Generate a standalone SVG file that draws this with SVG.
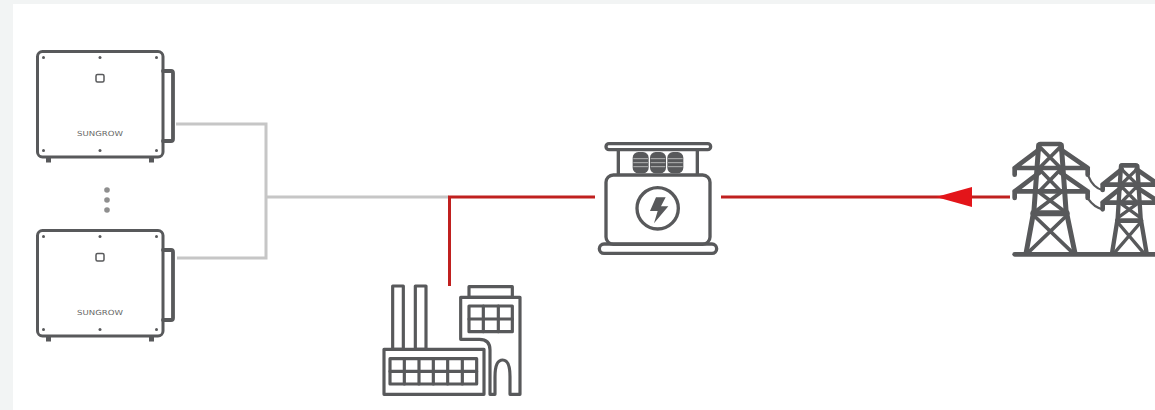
<svg xmlns="http://www.w3.org/2000/svg" width="1155" height="410" viewBox="0 0 1155 410">
<style>
.ic{fill:none;stroke:#58595b;stroke-linecap:round;stroke-linejoin:round}
.dc{fill:none;stroke:#c6c6c6;stroke-width:3}
.ac{fill:none;stroke:#c0201f;stroke-width:3}
.d{fill:#58595b}
.lbl{font-family:"DejaVu Sans",sans-serif;font-size:7px;fill:#606060;text-anchor:middle;opacity:.95}
</style>
<defs>
<g id="inv">
<rect class="ic" x="37.500" y="51.500" width="125.500" height="105.500" rx="5" stroke-width="3"/>
<path class="ic" stroke-width="3.800" d="M163 71H171Q173 71 173 73V139Q173 141 171 141H163"/>
<path class="d" d="M46 158H51V162.500H46ZM149 158H154V162.500H149Z"/>
<circle class="d" cx="43.500" cy="57.500" r="1.500"/><circle class="d" cx="100" cy="57.500" r="1.500"/><circle class="d" cx="156.500" cy="57.500" r="1.500"/>
<circle class="d" cx="43.500" cy="150.500" r="1.500"/><circle class="d" cx="100" cy="150.500" r="1.500"/><circle class="d" cx="156.500" cy="150.500" r="1.500"/>
<rect class="ic" x="96" y="74.500" width="8" height="7.500" rx="1.500" stroke-width="1.500"/>
</g>
</defs>
<rect width="1155" height="410" fill="#f2f4f4"/>
<rect x="13" y="4" width="1142" height="406" fill="#fff"/>
<g id="connectors">
<path class="dc" d="M176 124H266V258H177"/>
<path class="dc" d="M266 197H449"/>
<path class="ac" d="M595 197H449.500V286"/>
<path class="ac" d="M721 197H1010"/>
<polygon points="936,197 972,187 972,207" fill="#e3151a"/>
</g>
<g id="inverter-1"><use href="#inv"/><text class="lbl" x="100" y="135.500" textLength="46" lengthAdjust="spacingAndGlyphs">SUNGROW</text></g>
<g id="ellipsis" fill="#8f8f8f"><circle cx="107" cy="190" r="2.800"/><circle cx="107" cy="200" r="2.800"/><circle cx="107" cy="210" r="2.800"/></g>
<g id="inverter-2"><use href="#inv" y="179"/><text class="lbl" x="100" y="314.500" textLength="46" lengthAdjust="spacingAndGlyphs">SUNGROW</text></g>
<g id="factory" transform="translate(370 270) scale(.33333)">
<g class="ic" stroke-width="9.500">
<rect x="68" y="48" width="32" height="190"/><rect x="136" y="48" width="32" height="190"/>
<rect x="42" y="238" width="300" height="135"/>
<rect x="60" y="266" width="260" height="76"/>
<path d="M103 266V342M147 266V342M190 266V342M233 266V342M277 266V342M60 304H320"/>
<path d="M272 208V82H450V373H420V320Q420 270 398 270Q375 270 375 320V373H360V240Q360 208 328 208Z"/>
<rect x="297" y="50" width="130" height="32"/>
<rect x="297" y="108" width="130" height="77"/>
<path d="M340 108V185M385 108V185M297 147H427"/>
</g>
</g>
<g id="transformer" transform="translate(580 130) scale(.33333)">
<g class="ic" stroke-width="10">
<rect x="78" y="41" width="314" height="18" rx="9"/>
<path d="M115 59V132M352 59V132"/>
<rect x="78" y="135" width="312" height="208" rx="22"/>
<rect x="58" y="342" width="352" height="28" rx="14"/>
<circle cx="233" cy="235" r="62"/>
</g>
<path class="d" d="M228 202H257L243 229H265L222 280L233 243H210Z"/>
<g fill="#58595b">
<rect x="158" y="66" width="48" height="64" rx="17"/><rect x="210" y="66" width="48" height="64" rx="17"/><rect x="262" y="66" width="48" height="64" rx="17"/>
</g>
<path d="M160 86H204M160 98H204M160 110H204M212 86H256M212 98H256M212 110H256M264 86H308M264 98H308M264 110H308" fill="none" stroke="#c4c4c4" stroke-width="2.500"/>
</g>
<g id="grid" transform="translate(990 130) scale(.33333)">
<g class="ic" stroke-width="14">
<path d="M74 373H495"/>
<path d="M150 42H210"/>
<path d="M146 45L132 240L108 370M214 45L228 240L255 370" stroke-width="15"/>
<path d="M74 134V114H293V134M74 114L148 58M293 114L212 58"/>
<path d="M74 204V184H293V204M74 184L148 128M293 184L212 128"/>
<path d="M148 50L212 114M212 50L148 114M148 118L212 184M212 118L148 184M146 186L225 245M214 186L135 245" stroke-width="11"/>
<path d="M130 250H230" stroke-width="18"/>
<path d="M130 255L250 370M232 255L112 370" stroke-width="11"/>
<path d="M395 106H438"/>
<path d="M393 108L383 265L366 370M442 108L452 265L470 370" stroke-width="13"/>
<path d="M338 180V164H495M338 164L395 118M495 156L440 118"/>
<path d="M338 238V218H495M338 218L395 172M495 208L440 172"/>
<path d="M395 118L440 162M440 118L395 162M395 170L440 216M440 170L395 216M392 220L450 262M443 220L385 262" stroke-width="10"/>
<path d="M382 272H453"/>
<path d="M382 276L462 370M453 276L372 370" stroke-width="10"/>
<path d="M294 136Q310 175 338 180M294 206Q312 232 338 238" stroke-width="7"/>
</g>
</g>
</svg>
